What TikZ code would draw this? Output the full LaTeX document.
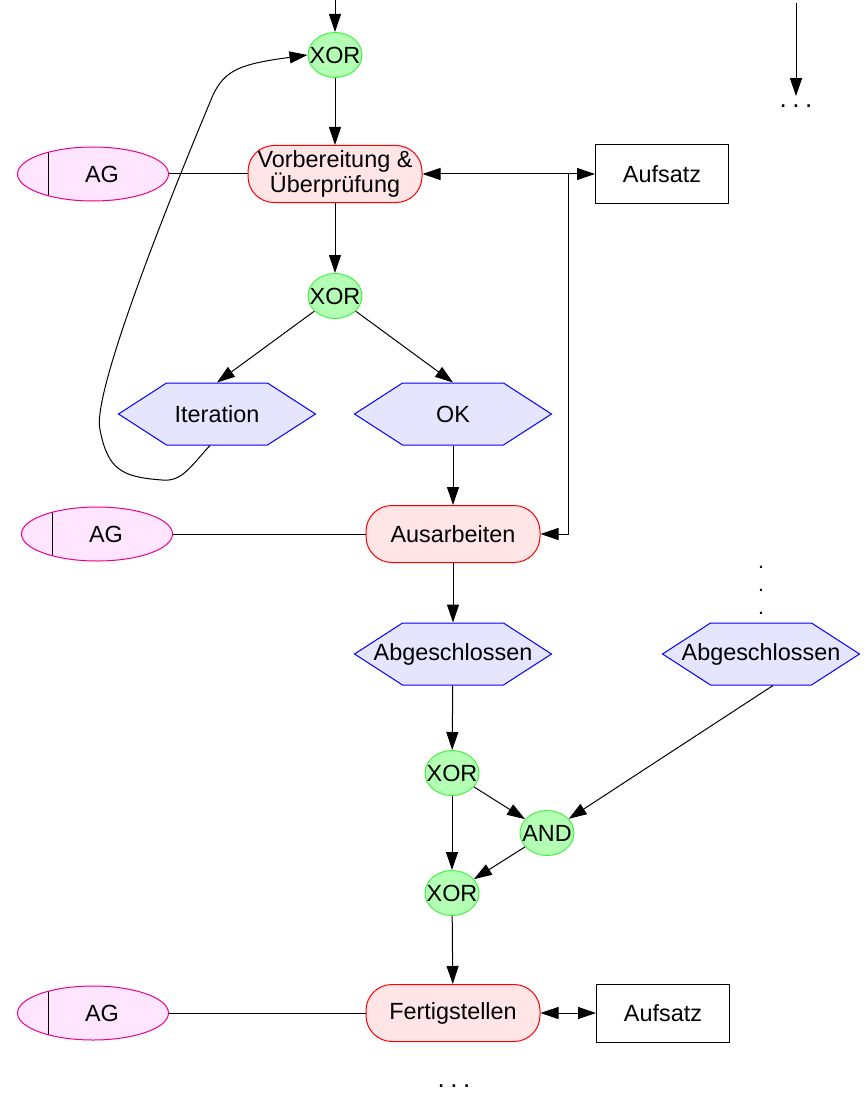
\documentclass[tikz,border=0pt]{standalone}
\usepackage{fontspec}
\setmainfont{Liberation Sans}
\usetikzlibrary{shapes.geometric,shapes.symbols,arrows.meta}
\definecolor{gatefill}{RGB}{179,255,179}
\definecolor{gateline}{RGB}{70,240,70}
\definecolor{taskfill}{RGB}{255,229,229}
\definecolor{eventfill}{RGB}{229,229,255}
\definecolor{rolefill}{RGB}{255,229,255}
\newcommand{\spill}[1]{\makebox[0pt]{#1}}
\begin{document}
\begin{tikzpicture}[x=1pt, y=-1pt, line width=1pt,
    >={Triangle[length=18pt,width=12pt]},
    font=\fontsize{23.4}{24}\selectfont,
    gate/.style={draw=gateline, fill=gatefill, ellipse, inner sep=0pt,
      minimum width=54pt, minimum height=45pt},
    task/.style={draw=red, fill=taskfill, rectangle, rounded corners=26pt,
      minimum width=174pt, minimum height=57pt, align=center},
    event/.style={draw=blue, fill=eventfill, signal, signal to=west and east,
      signal pointer angle=65.7, inner sep=0pt,
      minimum width=197pt, minimum height=62pt},
    role/.style={draw=magenta, fill=rolefill, ellipse,
      minimum width=151pt, minimum height=54pt,
      path picture={\draw [black]
        ([xshift=31pt]path picture bounding box.south west) --
        ([xshift=31pt]path picture bounding box.north west);}},
    doc/.style={draw, rectangle, minimum width=133pt, minimum height=58pt},
    dots/.style={font=\fontsize{26}{23}\selectfont, inner sep=0pt}]
    \useasboundingbox (0,0) rectangle (866,1102);
    % upper part
    \coordinate (intop) at (335,0);
    \node [gate] (xor1) at (335,55) {\spill{XOR}}
    edge [<-] (intop);
    \node [task] (vorb) at (335,174) {Vorbereitung \&\\Überprüfung}
    edge [<-] (xor1);
    \node [role] (ag1) at (93,174) {\hspace*{18pt}AG}
    edge (vorb);
    \node [doc] (auf1) at (662,174) {Aufsatz}
    edge [<->] (vorb);
    \node [gate] (xor2) at (335,296) {\spill{XOR}}
    edge [<-] (vorb);
    \node [event] (iter) at (217,414) {\spill{Iteration}};
    \node [event] (ok) at (453,414) {\spill{OK}};
    \draw [->] (xor2) -- (iter.north);
    \draw [->] (xor2) -- (ok.north);
    \draw [->] ([xshift=-7pt]iter.south) .. controls (190,467) and (182,482) .. (162,480)
      .. controls (122,477) and (108,470) .. (100,430)
      .. controls (90,390) and (190,150) .. (213,95)
      .. controls (225,70) and (240,64) .. (xor1.west);
    % middle part
    \node [task] (ausarb) at (453,534) {Ausarbeiten}
    edge [<-] (ok);
    \node [role] (ag2) at (97,534) {\hspace*{18pt}AG}
    edge (ausarb);
    \coordinate (split) at (568,174);
    \draw [->] (split) |- (ausarb);
    \node [event] (abg1) at (453,654) {\spill{Abgeschlossen}}
    edge [<-] (ausarb);
    \node [event] (abg2) at (761,654) {\spill{Abgeschlossen}};
    \node [dots, font=\fontsize{21}{23}\selectfont, align=center] (vdots) at (761,590) {.\\.\\.};
    \node [gate] (xor3) at (452,773) {\spill{XOR}}
    edge [<-] (abg1);
    \node [gate] (and) at (547,833) {\spill{AND}}
    edge [<-] (xor3)
    edge [<-] ([xshift=12pt]abg2.south);
    \node [gate] (xor4) at (452,893) {\spill{XOR}}
    edge [<-] (xor3)
    edge [<-] (and);
    % lower part
    \node [task] (fertig) at (453,1013) {Fertigstellen}
    edge [<-] (xor4);
    \node [role] (ag3) at (93,1013) {\hspace*{18pt}AG}
    edge (fertig);
    \node [doc] (auf2) at (663,1013) {Aufsatz}
    edge [<->] (fertig);
    \node [dots] (dotsB) at (454,1086) {.\hspace{5.5pt}.\hspace{5.5pt}.};
    % right column
    \coordinate (rtop) at (796,3);
    \node [dots, inner ysep=8pt] (dotsR) at (796,106) {.\hspace{5.5pt}.\hspace{5.5pt}.}
    edge [<-] (rtop);
\end{tikzpicture}
\end{document}
